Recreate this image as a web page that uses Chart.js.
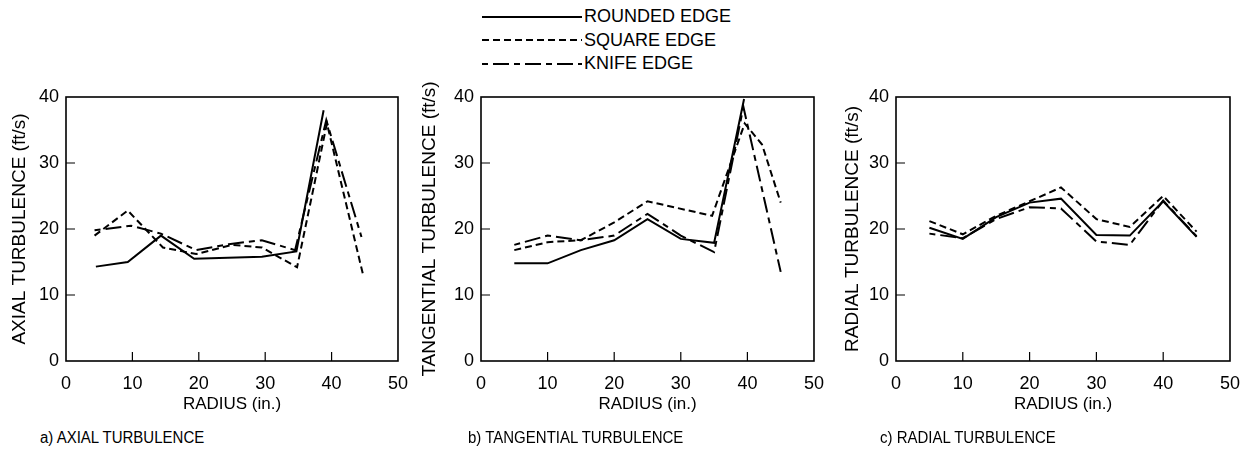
<!DOCTYPE html>
<html>
<head>
<meta charset="utf-8">
<script src="https://cdn.jsdelivr.net/npm/chart.js"></script>
<style>
    body { margin: 0; background: #fff; font-family: "Liberation Sans", Arial, sans-serif; color: #000; }
    #page { position: relative; width: 1252px; height: 450px; overflow: hidden; }
    .panel { position: absolute; top: 0; height: 425px; }
    .legend { position: absolute; left: 482px; top: 5px; }
    .legend-row { display: flex; align-items: center; height: 23.5px; font-size: 18px; }
    .legend-row svg { margin-right: 2px; }
    .caption { position: absolute; top: 427px; font-size: 15px; transform: scaleY(1.15); transform-origin: 0 0; }
</style>
</head>
<body>
<div id="page">
    <div class="legend">
        <div class="legend-row"><svg width="100" height="10"><line x1="0" y1="5" x2="100" y2="5" stroke="#000" stroke-width="2"/></svg>ROUNDED EDGE</div>
        <div class="legend-row"><svg width="100" height="10"><line x1="0" y1="5" x2="100" y2="5" stroke="#000" stroke-width="2" stroke-dasharray="7 4"/></svg>SQUARE EDGE</div>
        <div class="legend-row"><svg width="100" height="10"><line x1="0" y1="5" x2="100" y2="5" stroke="#000" stroke-width="2" stroke-dasharray="6 5 16 5"/></svg>KNIFE EDGE</div>
    </div>
    <div class="panel" style="left:2px;width:418px"><canvas id="chart-axial"></canvas></div>
    <div class="panel" style="left:412px;width:424px"><canvas id="chart-tangential"></canvas></div>
    <div class="panel" style="left:835px;width:417px"><canvas id="chart-radial"></canvas></div>
    <div class="caption" style="left:40px">a) AXIAL TURBULENCE</div>
    <div class="caption" style="left:468px">b) TANGENTIAL TURBULENCE</div>
    <div class="caption" style="left:880px">c) RADIAL TURBULENCE</div>
</div>
<script>
    // radius (in.) and turbulence (ft/s)
    const axialRoundedR = [4.5, 9.3, 14.3, 19.3, 29.5, 34.7, 38.8];
    const axialRounded = [14.3, 15.0, 19.0, 15.5, 15.8, 16.6, 38.0];
    const axialSquareR = [4.3, 9.3, 14.6, 19.6, 25, 29.5, 34.8, 39.3, 44.8];
    const axialSquare = [19.0, 22.8, 17.2, 16.2, 17.6, 17.2, 14.2, 36.0, 12.8];
    const axialKnifeR = [4.3, 9.8, 14.3, 19.6, 24.5, 29.5, 34.5, 39.2, 44.5];
    const axialKnife = [19.8, 20.5, 19.3, 16.8, 17.7, 18.3, 16.8, 36.5, 18.8];

    const tangRoundedR = [5, 10, 15, 20, 25, 30, 35, 39.5];
    const tangRounded = [14.8, 14.8, 16.8, 18.3, 21.5, 18.5, 17.9, 39.7];
    const tangSquareR = [5, 10, 15, 20, 25, 34.7, 39.6, 42.2, 45];
    const tangSquare = [16.8, 18.0, 18.3, 21.0, 24.2, 22.0, 36.0, 32.8, 24.0];
    const tangKnifeR = [5, 10, 15, 20, 25, 30, 35, 39.4, 45];
    const tangKnife = [17.6, 19.0, 18.3, 19.0, 22.3, 19.0, 16.5, 38.5, 13.5];

    const radialR = [5, 10, 15, 20, 24.7, 30, 35, 40, 45];
    const radialRounded = [20.2, 18.5, 21.8, 24.0, 24.6, 19.1, 19.0, 24.2, 18.8];
    const radialSquare = [21.2, 19.2, 22.0, 24.2, 26.3, 21.5, 20.3, 25.0, 19.6];
    const radialKnife = [19.3, 18.6, 21.5, 23.3, 23.1, 18.1, 17.6, 24.3, 18.9];

    const xTicks = [0, 10, 20, 30, 40, 50];
    const yTicks = [0, 10, 20, 30, 40];

    const FONT = '"Liberation Sans", Arial, sans-serif';
    const SQUARE_DASH = [7, 4];
    const KNIFE_DASH = [6, 5, 16, 5];

    function points(xs, ys) {
        return xs.map((x, i) => ({x: x, y: ys[i]}));
    }

    // box around the plot plus short inward ticks
    const framePlugin = {
        id: 'frame',
        afterDraw(chart) {
            const {ctx, chartArea: a, scales} = chart;
            ctx.save();
            ctx.strokeStyle = '#000';
            ctx.lineWidth = 1.6;
            ctx.strokeRect(a.left, a.top, a.right - a.left, a.bottom - a.top);
            ctx.lineWidth = 1.2;
            ctx.beginPath();
            [10, 20, 30, 40].forEach(v => {
                const px = scales.x.getPixelForValue(v);
                ctx.moveTo(px, a.bottom);
                ctx.lineTo(px, a.bottom - 9);
            });
            [10, 20, 30].forEach(v => {
                const py = scales.y.getPixelForValue(v);
                ctx.moveTo(a.left, py);
                ctx.lineTo(a.left + 9, py);
            });
            ctx.stroke();
            ctx.restore();
        }
    };

    function makeChart(id, title, yWidth, series) {
        const el = document.getElementById(id);
        const wrap = el.parentElement;
        el.width = wrap.clientWidth;
        el.height = 425;
        return new Chart(el, {
            type: 'scatter',
            data: {
                datasets: series.map(s => ({
                    label: s.label,
                    data: s.data,
                    showLine: true,
                    borderColor: '#000',
                    borderWidth: 2,
                    borderDash: s.dash,
                    pointRadius: 0,
                    tension: 0
                }))
            },
            options: {
                responsive: false,
                animation: false,
                layout: {padding: {top: 97, right: 20, bottom: 0, left: 0}},
                plugins: {legend: {display: false}, tooltip: {enabled: false}},
                scales: {
                    x: {
                        type: 'linear', min: 0, max: 50,
                        afterBuildTicks: s => { s.ticks = xTicks.map(v => ({value: v})); },
                        afterFit: s => { s.height = 64; },
                        grid: {display: false, drawTicks: false},
                        border: {display: false},
                        ticks: {color: '#000', padding: 12, font: {family: FONT, size: 18}},
                        title: {display: true, text: 'RADIUS (in.)', color: '#000',
                            padding: {top: 0, bottom: 10}, font: {family: FONT, size: 17}}
                    },
                    y: {
                        min: 0, max: 40,
                        afterBuildTicks: s => { s.ticks = yTicks.map(v => ({value: v})); },
                        afterFit: s => { s.width = yWidth; },
                        grid: {display: false, drawTicks: false},
                        border: {display: false},
                        ticks: {color: '#000', padding: 7, font: {family: FONT, size: 18}},
                        title: {display: true, text: title, color: '#000',
                            padding: {top: 6, bottom: 0}, font: {family: FONT, size: 19}}
                    }
                }
            },
            plugins: [framePlugin]
        });
    }

    makeChart('chart-axial', 'AXIAL TURBULENCE (ft/s)', 64, [
        {label: 'ROUNDED EDGE', data: points(axialRoundedR, axialRounded), dash: []},
        {label: 'SQUARE EDGE', data: points(axialSquareR, axialSquare), dash: SQUARE_DASH},
        {label: 'KNIFE EDGE', data: points(axialKnifeR, axialKnife), dash: KNIFE_DASH}
    ]);
    makeChart('chart-tangential', 'TANGENTIAL TURBULENCE (ft/s)', 69, [
        {label: 'ROUNDED EDGE', data: points(tangRoundedR, tangRounded), dash: []},
        {label: 'SQUARE EDGE', data: points(tangSquareR, tangSquare), dash: SQUARE_DASH},
        {label: 'KNIFE EDGE', data: points(tangKnifeR, tangKnife), dash: KNIFE_DASH}
    ]);
    makeChart('chart-radial', 'RADIAL TURBULENCE (ft/s)', 61, [
        {label: 'ROUNDED EDGE', data: points(radialR, radialRounded), dash: []},
        {label: 'SQUARE EDGE', data: points(radialR, radialSquare), dash: SQUARE_DASH},
        {label: 'KNIFE EDGE', data: points(radialR, radialKnife), dash: KNIFE_DASH}
    ]);
</script>
</body>
</html>
